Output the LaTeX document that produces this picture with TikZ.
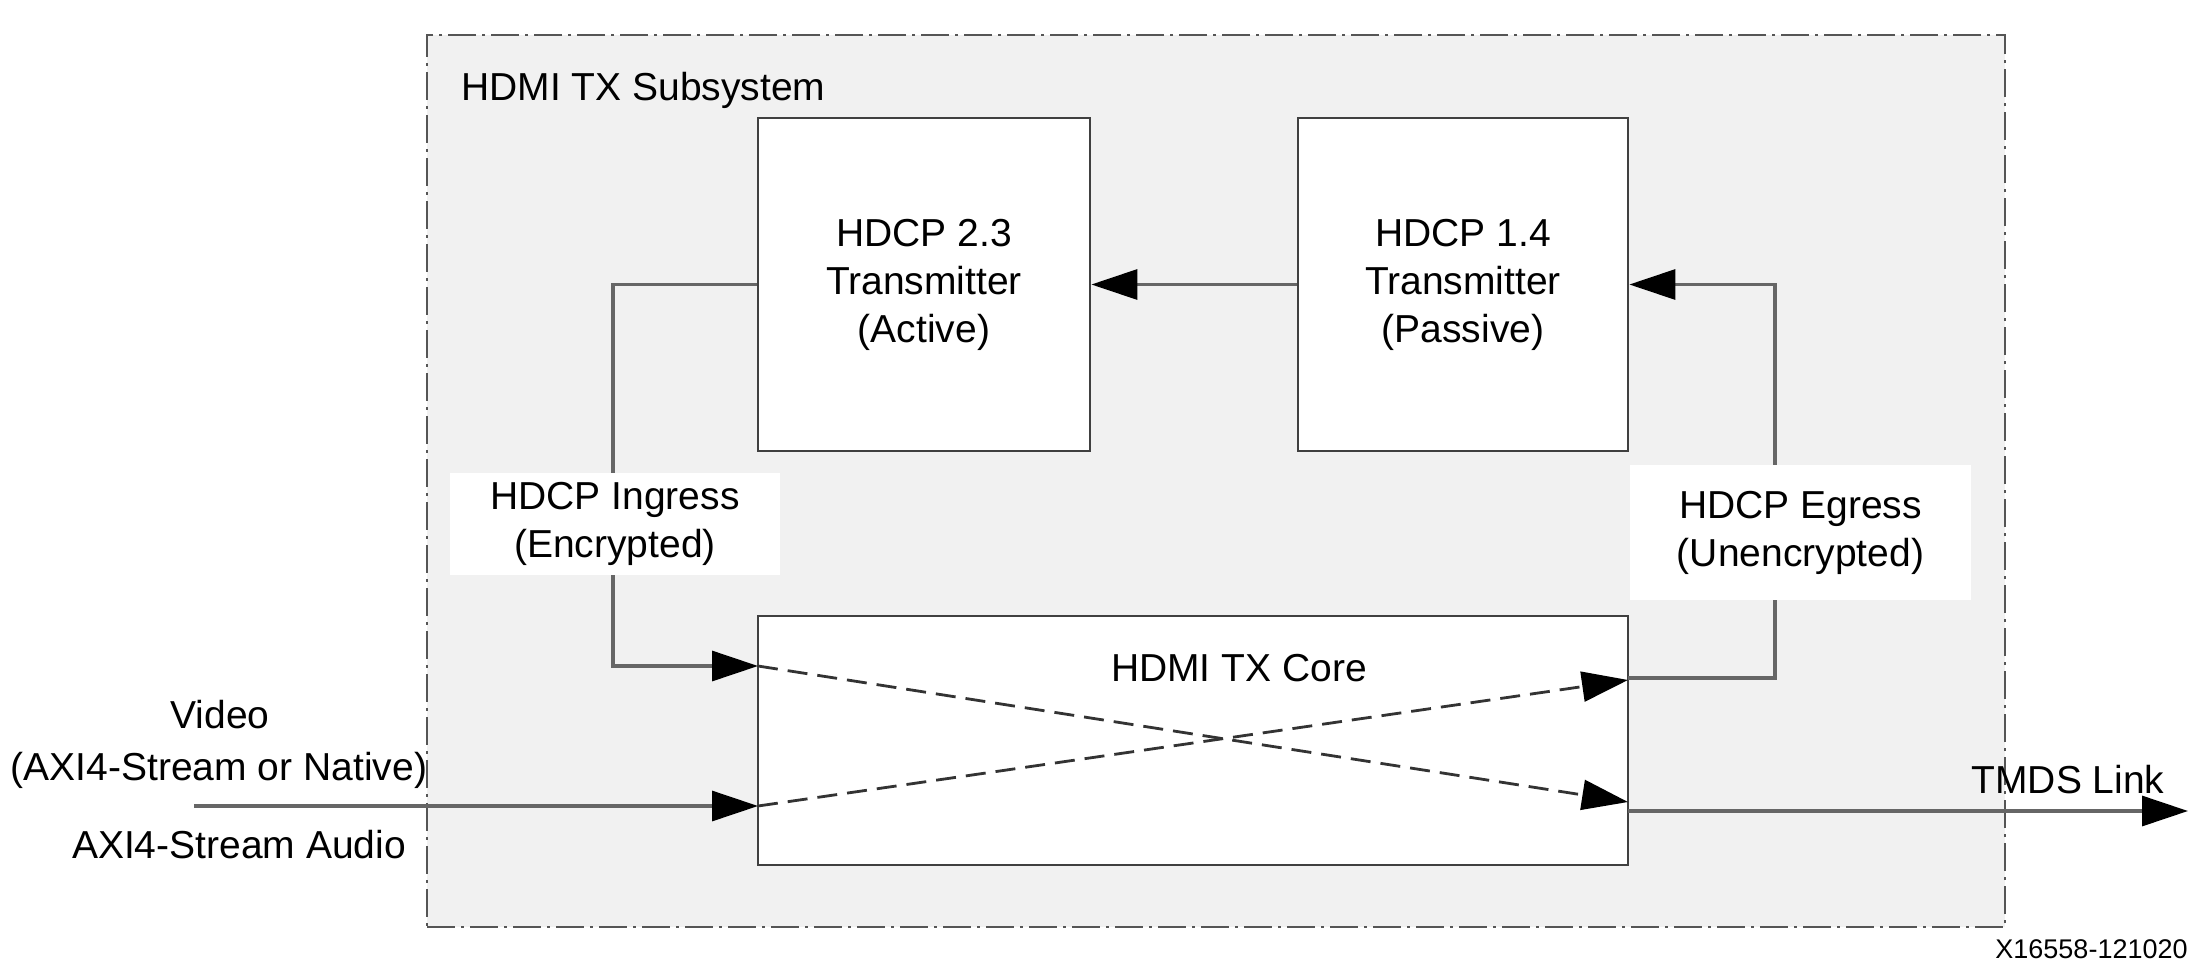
\documentclass[tikz,border=0pt]{standalone}
\usepackage{fontspec}
\setmainfont{Liberation Sans}
\usetikzlibrary{arrows.meta,calc}
\definecolor{panel}{HTML}{F1F1F1}
\definecolor{boxline}{HTML}{404040}
\definecolor{conline}{HTML}{666666}
\definecolor{frameline}{HTML}{555555}
\begin{document}
\begin{tikzpicture}[x=0.5pt,y=-0.5pt,
  font=\fontsize{19.5}{24}\selectfont,
  subsys/.style={draw=frameline, line width=1.1pt, fill=panel, inner sep=0pt,
    dash pattern=on 14pt off 3pt on 1.5pt off 3pt},
  block/.style={draw=boxline, line width=1.4pt, fill=white, inner sep=0pt, align=center},
  lbl/.style={fill=white, inner sep=0pt, align=center},
  tip/.style={-{Triangle[length=23pt,width=15pt,color=black]}},
  conn/.style={draw=conline, line width=1.6pt, tip},
  dconn/.style={draw=black!80, line width=1.4pt, dash pattern=on 10pt off 5pt, tip},
  txt/.style={inner sep=0pt}
]
\useasboundingbox (0,0) rectangle (2208,980);

% subsystem frame
\node[subsys, minimum width=789pt, minimum height=446pt] (sub) at (1216,481) {};
\node[txt, anchor=base west] (title) at (461,100) {HDMI TX Subsystem};

% blocks
\node[block, minimum width=166pt, minimum height=166.5pt] (h23) at (924,284.5)
  {HDCP 2.3\\Transmitter\\(Active)};
\node[block, minimum width=165pt, minimum height=166.5pt] (h14) at (1463,284.5)
  {HDCP 1.4\\Transmitter\\(Passive)};
\node[block, minimum width=435pt, minimum height=124.5pt] (core) at (1193,740.5) {};
\node[txt] (coretxt) at (1239,668) {HDMI TX Core};

% connection points
\coordinate (cI)  at (758,666);
\coordinate (cI2) at (758,806);
\coordinate (cE)  at (1628,680);
\coordinate (cO2) at (1628,802);
\coordinate (cO)  at (1628,811);
\coordinate (xL)  at (613,666);
\coordinate (xR)  at (1775,678);
\coordinate (cE1) at (1628,678);
\coordinate (in)  at (194,806);
\coordinate (out) at (2188,811);

% connectors
\draw[conn] (h14.west) -- (h23.east);
\draw[conn] (h23.west) -| (xL) -- (cI);
\draw[conn] (cE1) -- (xR) |- (h14.east);
\draw[conn] (in) -- (cI2);
\draw[conn] (cO) -- (out);
\draw[dconn] (cI) -- (cO2);
\draw[dconn] (cI2) -- (cE);

% labels on connectors
\node[lbl, minimum width=165pt, minimum height=51pt] (ing) at (615,524)
  {HDCP Ingress\\(Encrypted)};
\node[lbl, minimum width=170.5pt, minimum height=67.5pt] (egr) at (1800.5,532.5)
  {HDCP Egress\\(Unencrypted)};

% external texts
\node[txt, anchor=base] (vid) at (220,728) {Video};
\node[txt, anchor=base] (vid2) at (219,780) {(AXI4-Stream or Native)};
\node[txt, anchor=base] (aud) at (239,858) {AXI4-Stream Audio};
\node[txt, anchor=base] (tmds) at (2068,793) {TMDS Link};
\node[txt, anchor=base east, font=\fontsize{13.5}{16}\selectfont] (fid) at (2188,958) {X16558-121020};
\end{tikzpicture}
\end{document}
